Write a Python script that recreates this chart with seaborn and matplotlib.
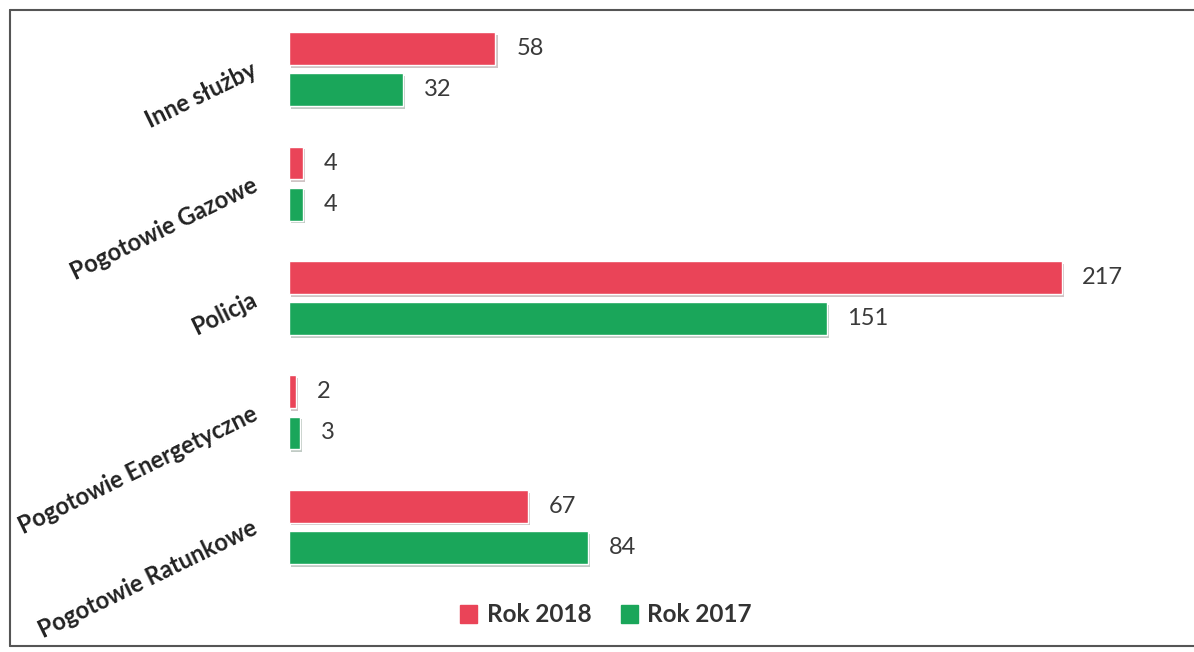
import numpy as np
import pandas as pd
import seaborn as sns
import matplotlib.pyplot as plt
import matplotlib.patheffects as pe
from matplotlib.lines import Line2D

categories = ["Inne służby", "Pogotowie Gazowe", "Policja",
              "Pogotowie Energetyczne", "Pogotowie Ratunkowe"]
rok_2018 = [58, 4, 217, 2, 67]
rok_2017 = [32, 4, 151, 3, 84]
series = ["Rok 2018", "Rok 2017"]
colors = ["#EA4458", "#1AA65A"]

df = pd.DataFrame({
    "kategoria": categories * 2,
    "wartosc": rok_2018 + rok_2017,
    "rok": [series[0]] * len(categories) + [series[1]] * len(categories),
})

sns.set_theme(style="white")
plt.rcParams["font.family"] = ["Lato", "DejaVu Sans"]

dpi = 100
fig = plt.figure(figsize=(1194 / dpi, 652 / dpi), dpi=dpi)
ax = fig.add_axes([289 / 1194, 1 - 584 / 652, 890 / 1194, 572 / 652])

sns.barplot(data=df, y="kategoria", x="wartosc", hue="rok", orient="h",
            palette=colors, width=0.72, gap=0.2, saturation=1, ax=ax)

shadow = [pe.SimplePatchShadow(offset=(1.5, -2), alpha=0.25), pe.Normal()]
for cont in ax.containers:
    for p in cont:
        p.set_path_effects(shadow)
    ax.bar_label(cont, padding=15, fontsize=17, color="#3a3a3a")

ax.set_xlim(0, 250)
ax.set_ylim(4.5, -0.5)
ax.set_xlabel("")
ax.set_ylabel("")
ax.set_xticks([])
sns.despine(ax=ax, left=True, bottom=True)
ax.tick_params(axis="y", length=0, pad=24)
for lbl in ax.get_yticklabels():
    lbl.set_rotation(26)
    lbl.set_ha("right")
    lbl.set_va("center")
    lbl.set_rotation_mode("anchor")
    lbl.set_fontsize(17)
    lbl.set_fontweight("bold")
    lbl.set_color("#222222")

ax.legend_.remove()
handles = [plt.Rectangle((0, 0), 1, 1, color=c) for c in colors]
fig.legend(handles, series, loc="center", bbox_to_anchor=(606 / 1194, 1 - 615 / 652),
           ncol=2, frameon=False, handlelength=0.7, handleheight=0.7,
           handletextpad=0.4, columnspacing=1.2,
           prop={"size": 17.5, "weight": "bold"}, labelcolor="#333333")

# ramka skanu
for xs, ys in [((10 / 1194, 10 / 1194), (1 - 10 / 652, 1 - 646 / 652)),
               ((10 / 1194, 1), (1 - 10 / 652, 1 - 10 / 652)),
               ((10 / 1194, 1), (1 - 646 / 652, 1 - 646 / 652))]:
    fig.add_artist(Line2D(xs, ys, color="#555555", linewidth=1.5))

fig.savefig("out.png", dpi=dpi)
